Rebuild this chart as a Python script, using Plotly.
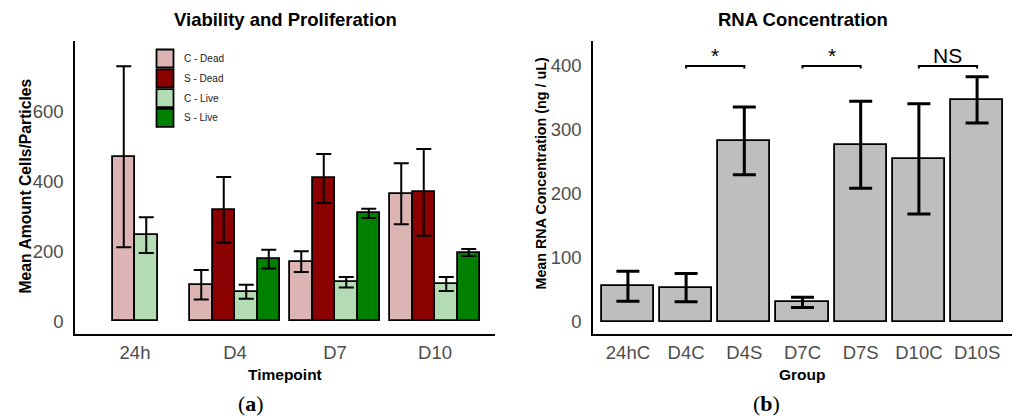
import plotly.graph_objects as go

# ---------------- data ----------------
timepoints = ["24h", "D4", "D7", "D10"]
groups = ["C - Dead", "S - Dead", "C - Live", "S - Live"]
group_colors = ["#DDB4B4", "#8B0000", "#B4DCB4", "#008000"]

c_dead_mean = [470, 104, 170, 364]
c_dead_sd = [259, 42, 30, 87]
s_dead_mean = [None, 318, 408, 368]
s_dead_sd = [None, 94, 70, 124]
c_live_mean = [246, 84, 111, 106]
c_live_sd = [51, 20, 15, 20]
s_live_mean = [None, 177, 308, 196]
s_live_sd = [None, 27, 13, 10]

rna_groups = ["24hC", "D4C", "D4S", "D7C", "D7S", "D10C", "D10S"]
rna_mean = [55, 53, 282, 30, 276, 254, 346]
rna_sd = [23.5, 22, 53, 8, 68, 86, 36]

comparisons = [("D4C", "D4S", "*"), ("D7C", "D7S", "*"), ("D10C", "D10S", "NS")]
bracket_y = 399
bracket_tick = 4

left_yticks = [0, 200, 400, 600]
right_yticks = [0, 100, 200, 300, 400]

# ---------------- helpers ----------------
W, H = 1020, 418
def PX(x):
    return x / W
def PY(y):
    return 1 - y / H

FONT = "Liberation Sans, Arial, Helvetica, sans-serif"
TICK_COLOR = "#4D4D4D"

fig = go.Figure()

means = [c_dead_mean, s_dead_mean, c_live_mean, s_live_mean]
sds = [c_dead_sd, s_dead_sd, c_live_sd, s_live_sd]
dodge = 0.9
bw = dodge / len(groups)

# offsets: bars present at a timepoint are packed and centred on it
present = [[g for g in range(len(groups)) if means[g][t] is not None] for t in range(len(timepoints))]
for g in range(len(groups)):
    xs, ys, es, offs = [], [], [], []
    for t in range(len(timepoints)):
        if means[g][t] is None:
            continue
        n = len(present[t])
        k = present[t].index(g)
        xs.append(timepoints[t])
        ys.append(means[g][t])
        es.append(sds[g][t])
        offs.append(-n * bw / 2 + k * bw)
    fig.add_trace(go.Bar(
        x=xs, y=ys, width=bw, offset=offs, name=groups[g],
        marker=dict(color=group_colors[g], line=dict(color="black", width=1.8)),
        error_y=dict(type="data", array=es, visible=True, color="black", thickness=2, width=7.5),
        xaxis="x", yaxis="y", showlegend=False,
    ))

fig.add_trace(go.Bar(
    x=rna_groups, y=rna_mean, width=0.9,
    marker=dict(color="#BEBEBE", line=dict(color="black", width=1.8)),
    error_y=dict(type="data", array=rna_sd, visible=True, color="black", thickness=3, width=11.5),
    xaxis="x2", yaxis="y2", showlegend=False,
))

annotations = []
for a, b, lab in comparisons:
    fig.add_trace(go.Scatter(
        x=[a, a, b, b], y=[bracket_y - bracket_tick, bracket_y, bracket_y, bracket_y - bracket_tick],
        mode="lines", line=dict(color="black", width=2), xaxis="x2", yaxis="y2",
        showlegend=False, hoverinfo="skip",
    ))
    mid = (rna_groups.index(a) + rna_groups.index(b)) / 2
    annotations.append(dict(x=mid, y=bracket_y, xref="x2", yref="y2", text=lab, showarrow=False,
                            yanchor="bottom", yshift=-3, font=dict(family=FONT, size=21, color="black")))

# manual legend
shapes = []
leg_x0, leg_x1, leg_top, leg_pitch, leg_h = 156.5, 173.5, 49.5, 19.8, 18
for i, (gname, col) in enumerate(zip(groups, group_colors)):
    y0 = leg_top + i * leg_pitch
    shapes.append(dict(type="rect", xref="paper", yref="paper",
                       x0=PX(leg_x0), x1=PX(leg_x1), y0=PY(y0), y1=PY(y0 + leg_h),
                       fillcolor=col, line=dict(color="black", width=1.8)))
    annotations.append(dict(x=PX(182), y=PY(y0 + leg_h / 2), xref="paper", yref="paper",
                            text=gname, showarrow=False, xanchor="left", yanchor="middle",
                            font=dict(family=FONT, size=10, color="#1a1a1a")))

def ann(text, x, y, size, angle=0, family=FONT, color="black"):
    annotations.append(dict(x=PX(x), y=PY(y), xref="paper", yref="paper", text=text,
                            showarrow=False, xanchor="center", yanchor="middle",
                            textangle=angle, font=dict(family=family, size=size, color=color)))

ann("<b>Viability and Proliferation</b>", 285, 19.5, 18.5)
ann("<b>RNA Concentration</b>", 802.5, 19.5, 18.5)
ann("<b>Timepoint</b>", 285, 374, 15.5)
ann("<b>Group</b>", 802.5, 374, 15.5)
ann("<b>Mean Amount Cells/Particles</b>", 24.5, 186, 15.7, angle=-90)
ann("<b>Mean RNA Concentration (ng / uL)</b>", 540, 173.5, 14.3, angle=-90)
ann("(<b>a</b>)", 250.5, 403, 22, family="Liberation Serif, DejaVu Serif, serif")
ann("(<b>b</b>)", 766.5, 403, 22, family="Liberation Serif, DejaVu Serif, serif")

ydom = [PY(334), PY(41)]
axis_common = dict(showgrid=False, zeroline=False, showline=True, linecolor="black", linewidth=1.5,
                   ticks="", tickfont=dict(family=FONT, size=18.5, color=TICK_COLOR))

fig.update_layout(
    width=W, height=H, margin=dict(l=0, r=0, t=0, b=0),
    paper_bgcolor="white", plot_bgcolor="white",
    barmode="overlay", bargap=0,
    xaxis=dict(domain=[PX(75), PX(495)], type="category", categoryorder="array",
               categoryarray=timepoints, range=[-0.6, len(timepoints) - 0.4],
               anchor="y", ticklabelstandoff=1, **axis_common),
    yaxis=dict(domain=ydom, range=[-37, 801], tickvals=left_yticks, anchor="x",
               ticklabelstandoff=6, **axis_common),
    xaxis2=dict(domain=[PX(593), PX(1012)], type="category", categoryorder="array",
                categoryarray=rna_groups, range=[-0.6, len(rna_groups) - 0.4],
                anchor="y2", ticklabelstandoff=1, **axis_common),
    yaxis2=dict(domain=ydom, range=[-19.5, 438], tickvals=right_yticks, anchor="x2",
                ticklabelstandoff=6, **axis_common),
    shapes=shapes, annotations=annotations,
)

fig.write_html("out.html", config={"displayModeBar": False},
               post_script="document.body.style.margin='0';document.body.style.overflow='hidden';")
